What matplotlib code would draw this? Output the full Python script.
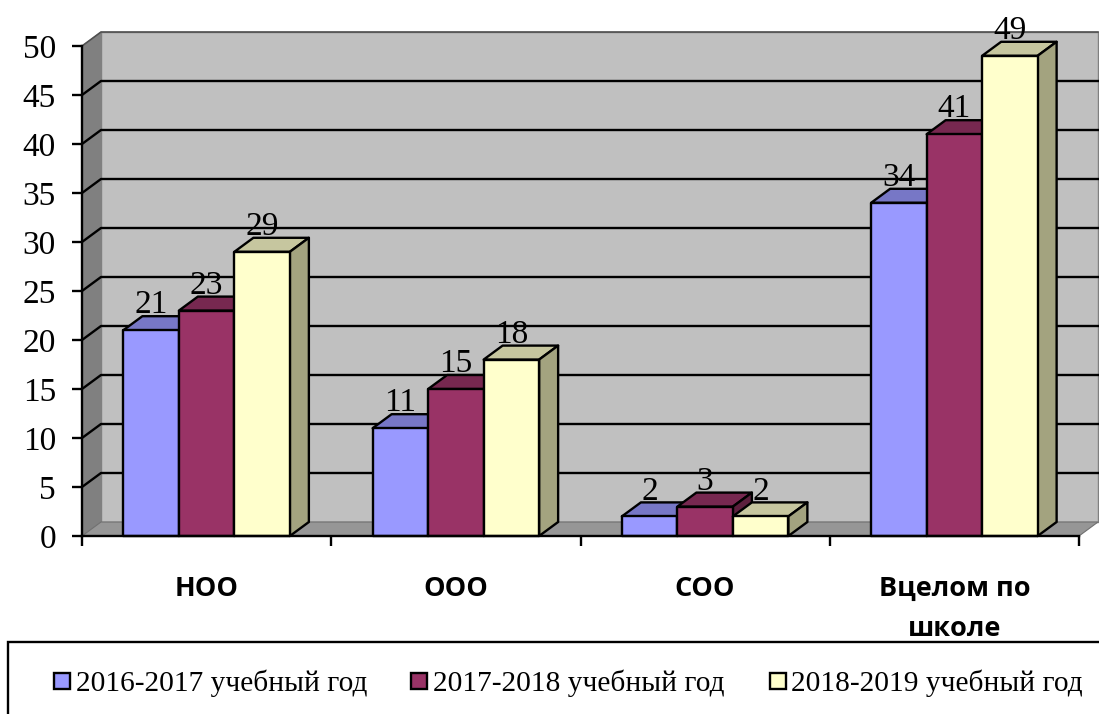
#! /usr/bin/env python3

import matplotlib
matplotlib.use('Agg')
import matplotlib.pyplot as plt
from matplotlib.patches import Polygon, Rectangle

categories = ['НОО', 'ООО', 'СОО', 'Вцелом по\nшколе']
series_names = ['2016-2017 учебный год', '2017-2018 учебный год', '2018-2019 учебный год']
values_2016 = [21, 11, 2, 34]
values_2017 = [23, 15, 3, 41]
values_2018 = [29, 18, 2, 49]
y_ticks = [0, 5, 10, 15, 20, 25, 30, 35, 40, 45, 50]

W, H = 1099, 714
front = ['#9999FF', '#993366', '#FFFFCC']
top = ['#7777C6', '#772850', '#C6C69F']
side = ['#5D5D9A', '#5C1F3D', '#A3A37F']

# => depth of the fake 3d, in data units
DX = 19 / 249.25
DY = 14 / 9.8
BAR_W = 55.5 / 249.25
LW = 1.7


def poly(ax, pts, color, edge='black', lw=LW, z=1):
    ax.add_patch(Polygon(pts, closed=True, facecolor=color, edgecolor=edge,
                         linewidth=lw, clip_on=False, zorder=z, joinstyle='round'))


def draw_walls(ax):
    # back wall, left wall, floor
    poly(ax, [(DX, DY), (4 + DX, DY), (4 + DX, 50 + DY), (DX, 50 + DY)], '#C0C0C0', '#808080', 1.0)
    poly(ax, [(0, 0), (DX, DY), (DX, 50 + DY), (0, 50)], '#808080', '#808080', 0.6)
    poly(ax, [(0, 0), (4, 0), (4 + DX, DY), (DX, DY)], '#969696', '#707070', 0.8)
    for t in y_ticks[1:-1]:
        ax.plot([0, DX, 4 + DX], [t, t + DY, t + DY], color='black', lw=LW,
                clip_on=False, zorder=1.5, solid_joinstyle='round')
    ax.plot([0, DX, 4 + DX], [50, 50 + DY, 50 + DY], color='#505050', lw=1.2,
            clip_on=False, zorder=1.5)


def draw_bar(ax, x, v, i, z):
    poly(ax, [(x, v), (x + BAR_W, v), (x + BAR_W + DX, v + DY), (x + DX, v + DY)], top[i], z=z)
    poly(ax, [(x + BAR_W, 0), (x + BAR_W + DX, DY), (x + BAR_W + DX, v + DY), (x + BAR_W, v)], side[i], z=z)
    poly(ax, [(x, 0), (x + BAR_W, 0), (x + BAR_W, v), (x, v)], front[i], z=z + 0.1)


def main():
    plt.rcParams['font.family'] = ['Liberation Serif', 'DejaVu Serif']
    fig = plt.figure(figsize=(W / 100, H / 100), dpi=100)
    ax = fig.add_axes([82 / W, 1 - 536 / H, (1079 - 82) / W, (536 - 46) / H])
    ax.set_xlim(0, 4)
    ax.set_ylim(0, 50)
    ax.patch.set_visible(False)

    draw_walls(ax)

    # => Bars, left to right so that the next one covers the previous side
    all_values = [values_2016, values_2017, values_2018]
    z = 2
    for c in range(len(categories)):
        x0 = c + 0.5 - 1.5 * BAR_W
        for i in range(3):
            x = x0 + i * BAR_W
            v = all_values[i][c]
            draw_bar(ax, x, v, i, z)
            z += 1
    for c in range(len(categories)):
        x0 = c + 0.5 - 1.5 * BAR_W
        for i in range(3):
            v = all_values[i][c]
            ax.annotate(str(v), (x0 + (i + 0.5) * BAR_W, v + DY), xytext=(0, 2),
                        textcoords='offset points', ha='center', va='baseline',
                        fontsize=24, color='black', zorder=100, annotation_clip=False)

    # => Axes
    for s in ['top', 'right']:
        ax.spines[s].set_visible(False)
    for s in ['left', 'bottom']:
        ax.spines[s].set_linewidth(1.7)
        ax.spines[s].set_zorder(50)
    ax.set_yticks(y_ticks)
    ax.tick_params(axis='y', length=7.2, width=1.7, pad=11.5, labelsize=24)
    ax.set_xticks([0, 1, 2, 3, 4])
    ax.set_xticklabels([])
    ax.tick_params(axis='x', which='major', length=7.2, width=1.7)
    ax.set_xticks([0.5, 1.5, 2.5, 3.5], minor=True)
    ax.set_xticklabels(categories, minor=True, fontfamily='Open Sans', fontweight='bold',
                       fontsize=19.5, linespacing=1.72)
    ax.tick_params(axis='x', which='minor', length=0, pad=28.5)

    # => Legend box runs off the bottom right corner
    fig.add_artist(Rectangle((8 / W, -0.02), 1.02, 1 - 642 / H + 0.02, transform=fig.transFigure,
                             facecolor='white', edgecolor='black', linewidth=1.7))
    marker_x = [54, 411, 770]
    text_x = [76, 433, 791]
    for i in range(3):
        fig.add_artist(Rectangle((marker_x[i] / W, 1 - 689 / H), 16 / W, 16 / H,
                                 transform=fig.transFigure, facecolor=front[i],
                                 edgecolor='black', linewidth=1.7))
        fig.text(text_x[i] / W, 1 - 691 / H, series_names[i], fontsize=21.2,
                 ha='left', va='baseline', color='black')

    fig.savefig('out.png', dpi=100)


main()
